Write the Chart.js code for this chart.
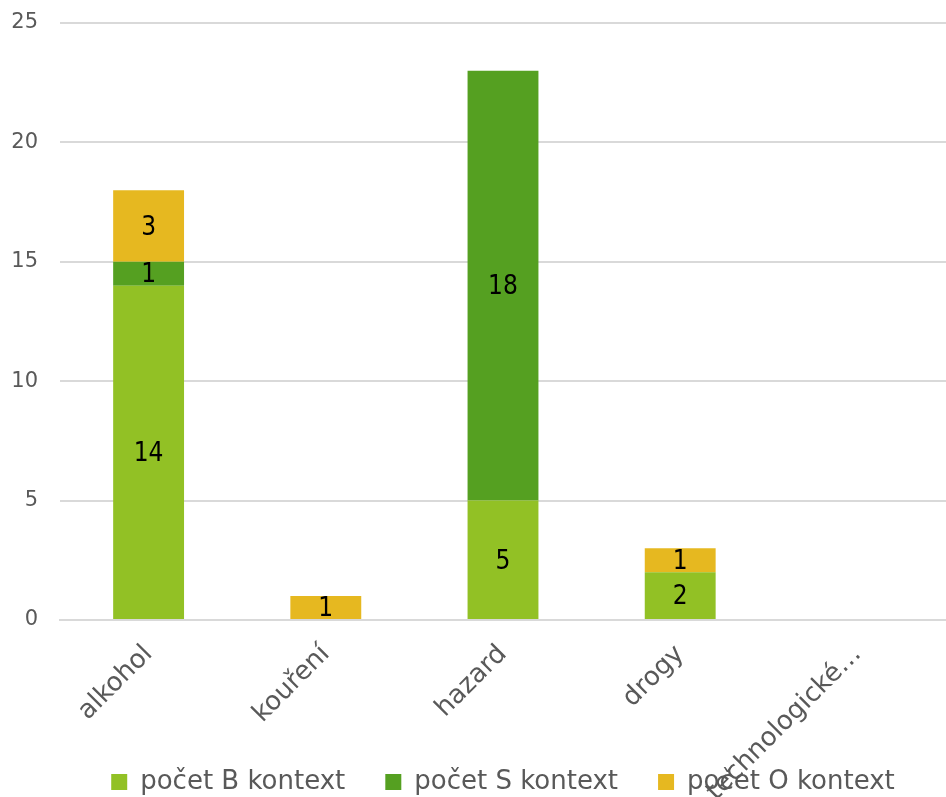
<!DOCTYPE html>
<html><head><meta charset="utf-8">
<script src="https://cdn.jsdelivr.net/npm/chart.js@4"></script>
<style>html,body{margin:0;padding:0;background:#fff}#w{width:946px;height:797px}</style>
</head><body><div id="w"><canvas id="c"></canvas></div>
<script>
const categories = ["alkohol", "kouření", "hazard", "drogy", "technologické…"];
const seriesB = [14, 0, 5, 2, 0];
const seriesS = [1, 0, 18, 0, 0];
const seriesO = [3, 1, 0, 1, 0];
const seriesNames = ["počet B kontext", "počet S kontext", "počet O kontext"];
const yTicks = [0, 5, 10, 15, 20, 25];

const FONT = "'DejaVu Sans', sans-serif";

const valueLabels = {
  id: 'valueLabels',
  afterDatasetsDraw(chart) {
    const ctx = chart.ctx;
    ctx.save();
    ctx.fillStyle = '#000';
    ctx.font = "26px 'DejaVu Sans Condensed', 'DejaVu Sans', sans-serif";
    ctx.textAlign = 'center';
    ctx.textBaseline = 'middle';
    chart.data.datasets.forEach((ds, i) => {
      const meta = chart.getDatasetMeta(i);
      meta.data.forEach((bar, j) => {
        const v = ds.data[j];
        if (!v) return;
        const p = bar.getProps(['x', 'y', 'base'], true);
        ctx.fillText(String(v), p.x, (p.y + p.base) / 2 + 2);
      });
    });
    ctx.restore();
  }
};

new Chart(document.getElementById('c'), {
  type: 'bar',
  data: {
    labels: categories,
    datasets: [
      { label: seriesNames[0], data: seriesB, backgroundColor: '#92c125' },
      { label: seriesNames[1], data: seriesS, backgroundColor: '#55a021' },
      { label: seriesNames[2], data: seriesO, backgroundColor: '#e6b820' }
    ]
  },
  options: {
    responsive: true,
    maintainAspectRatio: false,
    animation: false,
    datasets: { bar: { barPercentage: 0.4, categoryPercentage: 1.0 } },
    layout: { padding: { top: 23, left: 12, right: 0, bottom: -8 } },
    plugins: {
      legend: {
        position: 'bottom',
        fullSize: false,
        labels: {
          font: { family: FONT, size: 26 },
          color: '#595959',
          boxWidth: 16, boxHeight: 16,
          padding: 40
        }
      },
      tooltip: { enabled: false }
    },
    scales: {
      x: {
        stacked: true,
        grid: { display: false },
        border: { display: true, color: '#d9d9d9', width: 2 },
        ticks: {
          font: { family: FONT, size: 26 },
          color: '#595959',
          maxRotation: 45, minRotation: 45,
          padding: 11,
          autoSkip: false
        },
        afterFit(axis) {
          axis.height = 109;
          axis.paddingLeft = 0;
          axis.paddingRight = 0;
          axis._computeLabelArea = () => undefined;
        }
      },
      y: {
        stacked: true,
        min: 0, max: 25,
        afterBuildTicks(axis) { axis.ticks = yTicks.map(v => ({ value: v })); },
        grid: { color: '#d9d9d9', lineWidth: 2, drawTicks: false },
        border: { display: false },
        ticks: {
          font: { family: FONT, size: 21 },
          color: '#595959',
          padding: 22
        },
        afterFit(axis) {
          axis.width = 48;
          axis.paddingTop = 0;
          axis.paddingBottom = 0;
        }
      }
    }
  },
  plugins: [valueLabels]
});
</script>
</body></html>
